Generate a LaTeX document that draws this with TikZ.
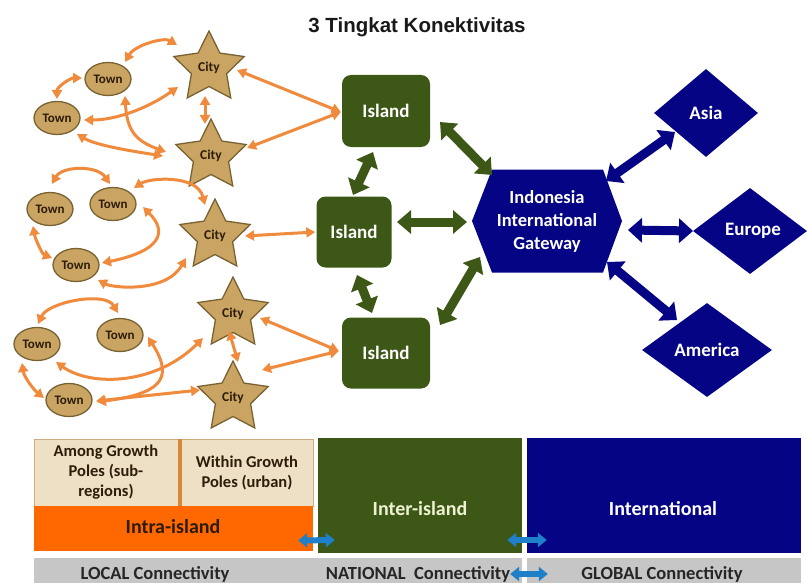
\documentclass[tikz,border=0pt]{standalone}
\usepackage{fontspec}
\setmainfont{Carlito}
\newfontfamily\titlefont{Liberation Sans}
\usetikzlibrary{shapes.geometric,arrows.meta,calc}

\definecolor{linkorange}{RGB}{240,138,60}
\definecolor{tanfill}{RGB}{201,164,98}
\definecolor{tanline}{RGB}{120,98,50}
\definecolor{inktxt}{RGB}{45,28,10}
\definecolor{isle}{RGB}{61,87,22}
\definecolor{navy}{RGB}{4,4,132}
\definecolor{beige}{RGB}{238,224,196}
\definecolor{beigeline}{RGB}{205,172,125}
\definecolor{poleline}{RGB}{215,135,60}
\definecolor{intraorange}{RGB}{255,104,0}
\definecolor{barsgrey}{RGB}{198,198,198}
\definecolor{steel}{RGB}{30,128,200}
\definecolor{cream}{RGB}{238,242,210}

\tikzset{
  town/.style={ellipse, draw=tanline, fill=tanfill, line width=1.3pt,
    minimum width=46pt, minimum height=33pt, inner sep=0pt, text=inktxt,
    font=\bfseries\fontsize{13}{15}\selectfont},
  city/.style={star, star points=5, star point ratio=2.0, draw=tanline,
    fill=tanfill, line width=1.3pt, minimum size=74pt, inner sep=0pt,
    text=inktxt, font=\bfseries\fontsize{13.5}{15}\selectfont},
  island/.style={rectangle, rounded corners=9pt, fill=isle, text=white,
    inner sep=0pt, font=\bfseries\fontsize{19}{22}\selectfont},
  region/.style={diamond, fill=navy, text=white, inner sep=0pt,
    font=\bfseries\fontsize{19}{22}\selectfont},
  gateway/.style={rectangle, minimum width=150pt, minimum height=103pt,
    inner sep=0pt, text=white, align=center,
    font=\bfseries\fontsize{18.5}{23}\selectfont,
    path picture={\fill[navy] (path picture bounding box.west)
      -- ([xshift=20pt]path picture bounding box.north west)
      -- ([xshift=-19pt]path picture bounding box.north east)
      -- (path picture bounding box.east)
      -- ([xshift=-19pt]path picture bounding box.south east)
      -- ([xshift=20pt]path picture bounding box.south west) -- cycle;}},
  link/.style={draw=linkorange, line width=3pt,
    {Triangle[length=9pt,width=10pt]}-{Triangle[length=9pt,width=10pt]}},
  greenlink/.style={draw=isle, line width=9pt,
    {Triangle[length=14pt,width=23pt]}-{Triangle[length=14pt,width=23pt]}},
  navylink/.style={draw=navy, line width=9pt,
    {Triangle[length=14pt,width=24pt]}-{Triangle[length=14pt,width=24pt]}},
  bluelink/.style={draw=steel, line width=6pt,
    {Triangle[length=9pt,width=14pt]}-{Triangle[length=9pt,width=14pt]}},
  polebox/.style={rectangle, fill=beige, draw=beigeline, line width=1pt,
    inner sep=0pt, align=center, text=inktxt,
    font=\bfseries\fontsize{16.5}{20}\selectfont},
  levelbox/.style={rectangle, inner sep=0pt},
  leveltext/.style={font=\bfseries\fontsize{20}{24}\selectfont},
  greybar/.style={rectangle, fill=barsgrey, inner sep=0pt, minimum height=25pt},
  bartext/.style={text=black!85, font=\bfseries\fontsize{18.5}{22}\selectfont},
}

\begin{document}
\begin{tikzpicture}[x=1pt,y=-1pt]
\useasboundingbox (0,0) rectangle (808,583);

% title
\node[font=\titlefont\bfseries\fontsize{20.5}{24}\selectfont, text=black!90] (title) at (417,27) {3 Tingkat Konektivitas};

% towns
\node[town] (tA) at (108,79) {Town};
\node[town] (tB) at (57,118) {Town};
\node[town] (tC) at (50,209) {Town};
\node[town] (tD) at (113,204) {Town};
\node[town] (tE) at (76,265) {Town};
\node[town] (tF) at (37,344) {Town};
\node[town] (tG) at (120,335) {Town};
\node[town] (tH) at (69,400) {Town};

% cities
\node[city] (c1) at (209,68) {City};
\node[city] (c2) at (211,156) {City};
\node[city] (c3) at (215,236) {City};
\node[city] (c4) at (233,314) {City};
\node[city] (c5) at (233,398) {City};

% islands
\node[island, minimum width=88pt, minimum height=72pt] (i1) at (386,111) {Island};
\node[island, minimum width=75pt, minimum height=71pt] (i2) at (354,232) {Island};
\node[island, minimum width=88pt, minimum height=71pt] (i3) at (386,353) {Island};

% international gateway and world regions
\node[gateway] (gw) at (547,221) {Indonesia\\International\\Gateway};
\node[region, minimum width=104pt, minimum height=88pt] (asia) at (706,113) {Asia};
\node[region, minimum width=114pt, minimum height=86pt] (europe) at (750,231) {\hspace*{6pt}Europe};
\node[region, minimum width=130pt, minimum height=94pt] (america) at (707,350) {America};

% local links, upper group
\draw[link] ($(tA)+(17,-17)$) .. controls +(10,-17) and +(-13,-8) .. ($(c1)+(-32,-23)$);
\draw[link] ($(tA)+(-26,-1)$) .. controls +(-12,0) and +(0,-12) .. ($(tB)+(0,-19)$);
\draw[link] ($(tB)+(27,2)$) .. controls +(30,0) and +(-33,23) .. ($(c1)+(-31,19)$);
\draw[link] ($(tA)+(17,17)$) .. controls +(2,35) and +(-30,-11) .. ($(c2)+(-45,-4)$);
\draw[link] ($(tB)+(20,16)$) .. controls +(20,12) and +(-25,-4) .. ($(c2)+(-48,0)$);
\draw[link] ($(c1)+(-4,28)$) -- ($(c2)+(-6,-32)$);
\draw[link] ($(i1.west)+(-1,1)$) -- ($(c1)+(28,2)$);
\draw[link] ($(i1.west)+(-1,1)$) -- ($(c2)+(36,-8)$);

% local links, middle group
\draw[link] ($(tC)+(2,-25)$) .. controls +(10,-18) and +(-13,-19) .. ($(tD)+(-3,-20)$);
\draw[link] ($(tD)+(21,-16)$) .. controls +(15,-10) and +(-8,-31) .. ($(c3)+(-10,-31)$);
\draw[link] ($(tC)+(-17,17)$) .. controls +(2,12) and +(-10,-4) .. ($(tE)+(-24,-7)$);
\draw[link] ($(tD)+(30,3)$) .. controls +(25,25) and +(59,-12) .. ($(tE)+(26,-2)$);
\draw[link] ($(tE)+(22,15)$) .. controls +(15,8) and +(-20,35) .. ($(c3)+(-29,22)$);
\draw[link] ($(i2.west)+(-1,0)$) -- ($(c3)+(30,0)$);

% local links, lower group
\draw[link] ($(tF)+(1,-20)$) .. controls +(10,-22) and +(-13,-22) .. ($(tG)+(-2,-22)$);
\draw[link] ($(tG)+(28,2)$) .. controls +(28,44) and +(60,-8) .. ($(tH)+(28,2)$);
\draw[link] ($(tF)+(19,18)$) .. controls +(35,25) and +(-47,47) .. ($(c4)+(-30,24)$);
\draw[link] ($(tF)+(-15,19)$) .. controls +(2,14) and +(-10,-8) .. ($(tH)+(-25,-2)$);
\draw[link] ($(tH)+(27,1)$) -- ($(c5)+(-33,-8)$);
\draw[link] ($(c4)+(-4,17)$) -- ($(c5)+(5,-36)$);
\draw[link] ($(i3.west)+(-3,-2)$) -- ($(c4)+(27,4)$);
\draw[link] ($(i3.west)+(-3,-2)$) -- ($(c5)+(29,-28)$);

% national links
\draw[greenlink] ($(i1)+(54,11)$) -- ($(gw)+(-55,-46)$);
\draw[greenlink] ($(i1)+(-13,41)$) -- ($(i2)+(-1,-37)$);
\draw[greenlink] ($(i2)+(43,-10)$) -- ($(gw)+(-80,1)$);
\draw[greenlink] ($(i2)+(3,43)$) -- ($(i3)+(-14,-40)$);
\draw[greenlink] ($(i3)+(54,-28)$) -- ($(gw)+(-67,36)$);

% global links
\draw[navylink] ($(gw)+(59,-40)$) -- ($(asia)+(-31,19)$);
\draw[navylink] ($(gw)+(81,9)$) -- ($(europe)+(-57,0)$);
\draw[navylink] ($(gw)+(60,41)$) -- ($(america)+(-30,-30)$);

% legend: connectivity levels
\node[greybar, minimum width=488pt] (localbar) at (278,570.5) {};
\node[greybar, minimum width=274pt] (globalbar) at (664,570.5) {};
\node[polebox, minimum width=144pt, minimum height=67pt] (among) at (106,472.5) {Among Growth\\Poles (sub-\\regions)};
\node[polebox, minimum width=132pt, minimum height=67pt] (within) at (247,472.5) {Within Growth\\Poles (urban)};
\fill[poleline] (177.5,439) rectangle (181.5,506);
\node[levelbox, fill=intraorange, minimum width=279pt, minimum height=45pt] (intra) at (173.5,528.5) {};
\node[levelbox, fill=isle, minimum width=204pt, minimum height=115pt] (inter) at (420,495.5) {};
\node[levelbox, fill=navy, minimum width=274pt, minimum height=115pt] (intl) at (664,495.5) {};
\node[leveltext, text=inktxt] (intratxt) at (173,527) {Intra-island};
\node[leveltext, text=cream] (intertxt) at (420,509) {Inter-island};
\node[leveltext, text=white] (intltxt) at (663,509) {International};
\node[bartext] (localtxt) at (155,574) {LOCAL Connectivity};
\node[bartext] (nattxt) at (418,574) {NATIONAL\ \ Connectivity};
\node[bartext] (globtxt) at (662,574) {GLOBAL Connectivity};

\draw[bluelink] ($(intra.east)+(-15,12)$) -- ($(inter.west)+(17,44.5)$);
\draw[bluelink] ($(inter.east)+(-15,44.5)$) -- ($(intl.west)+(20,44.5)$);
\draw[bluelink] ($(localbar.east)+(-12,3.5)$) -- ($(globalbar.west)+(21,3.5)$);
\end{tikzpicture}
\end{document}
